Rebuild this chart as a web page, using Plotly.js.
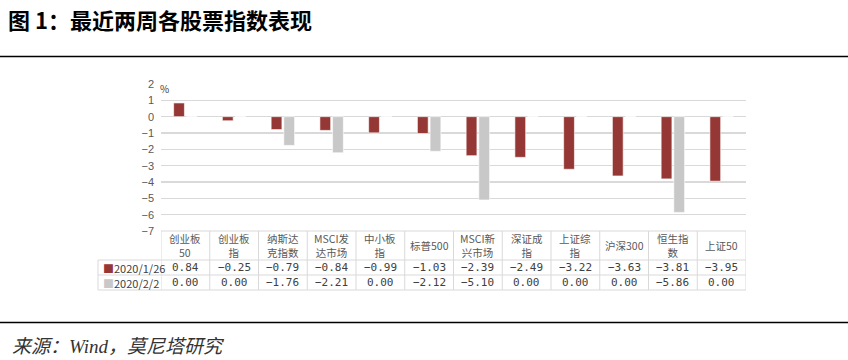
<!DOCTYPE html>
<html>
<head>
<meta charset="utf-8">
<script src="https://cdn.plot.ly/plotly-3.0.1.min.js"></script>
<style>html,body{margin:0;padding:0;background:#fff;}#chart{width:848px;height:360px;}</style>
</head>
<body>
<div id="chart"></div>
<script>
const categories = ["创业板50","创业板指","纳斯达克指数","MSCI发达市场","中小板指","标普500","MSCI新兴市场","深证成指","上证综指","沪深300","恒生指数","上证50"];
const headerLabels = ["创业板<br>50","创业板<br>指","纳斯达<br>克指数","MSCI发<br>达市场","中小板<br>指","标普500","MSCI新<br>兴市场","深证成<br>指","上证综<br>指","沪深300","恒生指<br>数","上证50"];
const seriesNames = ["2020/1/26","2020/2/2"];
const series1 = [0.84,-0.25,-0.79,-0.84,-0.99,-1.03,-2.39,-2.49,-3.22,-3.63,-3.81,-3.95];
const series2 = [0.00,0.00,-1.76,-2.21,0.00,-2.12,-5.10,0.00,0.00,0.00,-5.86,0.00];
const yTicks = [2,1,0,-1,-2,-3,-4,-5,-6,-7];

const W = 848, H = 360;
const L = 161, R = 746, T = 84, B = 231;
const colors = ["#953735", "#c8c8c8"];
const fontCJK = "'Noto Sans CJK SC', 'DejaVu Sans', sans-serif";
const txtColor = "#404040";
const gridColor = "#d9d9d9";

function pxX(x){ return (x - L) / (R - L); }
function pxY(y){ return (B - y) / (B - T); }
function fmt(v){ const s = Math.abs(v).toFixed(2); return v < 0 ? "−" + s : s; }

const traces = [series1, series2].map((vals, i) => ({
  type: "bar",
  name: seriesNames[i],
  x: categories,
  y: vals,
  marker: {color: colors[i], line: {color: "rgba(255,255,255,0.6)", width: 1}},
  hoverinfo: "skip"
}));

const shapes = [];
const annotations = [];

const rowTop = 231, rowHead = 260, rowMid = 275, rowBot = 290, legLeft = 98;
const line = {color: gridColor, width: 1};
shapes.push({type:"line", xref:"x", yref:"paper", x0:-0.5, x1:categories.length-0.5, y0:pxY(rowTop), y1:pxY(rowTop), line});
[rowHead, rowMid, rowBot].forEach(y => shapes.push({type:"line", xref:"paper", yref:"paper", x0:pxX(legLeft), x1:1, y0:pxY(y), y1:pxY(y), line}));
for (let i = 0; i <= categories.length; i++) {
  shapes.push({type:"line", xref:"x", yref:"paper", x0:i-0.5, x1:i-0.5, y0:pxY(rowTop), y1:pxY(rowBot), line});
}
shapes.push({type:"line", xref:"paper", yref:"paper", x0:pxX(legLeft), x1:pxX(legLeft), y0:pxY(rowHead), y1:pxY(rowBot), line});

categories.forEach((c, i) => {
  annotations.push({xref:"x", yref:"paper", x:c, y:pxY((rowTop+rowHead)/2), text:headerLabels[i], showarrow:false,
    font:{family:fontCJK, size:10.5, color:"#595959"}, xanchor:"center", yanchor:"middle"});
  annotations.push({xref:"x", yref:"paper", x:c, y:pxY((rowHead+rowMid)/2), text:fmt(series1[i]), showarrow:false,
    font:{family:"'DejaVu Sans Mono', monospace", size:11, color:txtColor}, xanchor:"center", yanchor:"middle"});
  annotations.push({xref:"x", yref:"paper", x:c, y:pxY((rowMid+rowBot)/2), text:fmt(series2[i]), showarrow:false,
    font:{family:"'DejaVu Sans Mono', monospace", size:11, color:txtColor}, xanchor:"center", yanchor:"middle"});
});
seriesNames.forEach((n, i) => {
  const yc = i === 0 ? (rowHead+rowMid)/2 : (rowMid+rowBot)/2;
  annotations.push({xref:"paper", yref:"paper", x:pxX(legLeft+3), y:pxY(yc), xanchor:"left", yanchor:"middle", showarrow:false,
    text:'<span style="color:'+colors[i]+'">■</span>' + n, font:{family:fontCJK, size:11, color:txtColor}});
});
annotations.push({xref:"paper", yref:"paper", x:pxX(158), y:pxY(88), xanchor:"left", yanchor:"middle", showarrow:false,
  text:"%", font:{family:fontCJK, size:10, color:"#404040"}});
annotations.push({xref:"paper", yref:"paper", x:pxX(10), y:pxY(346), xanchor:"left", yanchor:"middle", showarrow:false,
  text:"<i>来源：Wind，莫尼塔研究</i>", font:{family:"'Liberation Serif', 'Noto Sans CJK SC', serif", size:19, color:"#333333"}});

shapes.push({type:"line", xref:"paper", yref:"paper", x0:pxX(0), x1:pxX(W), y0:pxY(56.5), y1:pxY(56.5), line:{color:"#000", width:1.5}});
shapes.push({type:"line", xref:"paper", yref:"paper", x0:pxX(0), x1:pxX(W), y0:pxY(322.5), y1:pxY(322.5), line:{color:"#000", width:1.5}});

const layout = {
  width: W, height: H,
  margin: {l: L, r: W - R, t: T, b: H - B, pad: 0},
  paper_bgcolor: "#fff", plot_bgcolor: "#fff",
  title: {text: "<b>图 1：最近两周各股票指数表现</b>", x: 8/W, xanchor: "left", xref: "container",
          y: 1 - 21/H, yanchor: "middle", yref: "container",
          font: {family: fontCJK, size: 22, color: "#000"}},
  showlegend: false,
  barmode: "group", bargap: 0.48, bargroupgap: 0.15,
  xaxis: {type: "category", showticklabels: false, showgrid: false, zeroline: false, ticks: "", showline: false,
          range: [-0.5, categories.length - 0.5]},
  yaxis: {range: [-7, 2], tickvals: yTicks, showgrid: true, gridcolor: gridColor, gridwidth: 1.5,
          zeroline: true, zerolinecolor: gridColor, zerolinewidth: 1.5, showline: false, ticks: "",
          ticklabelstandoff: 6,
          tickfont: {family: "'Liberation Sans', Arial, sans-serif", size: 11, color: "#595959"}},
  shapes, annotations
};

Plotly.newPlot("chart", traces, layout, {displayModeBar: false, staticPlot: true});
</script>
</body>
</html>
